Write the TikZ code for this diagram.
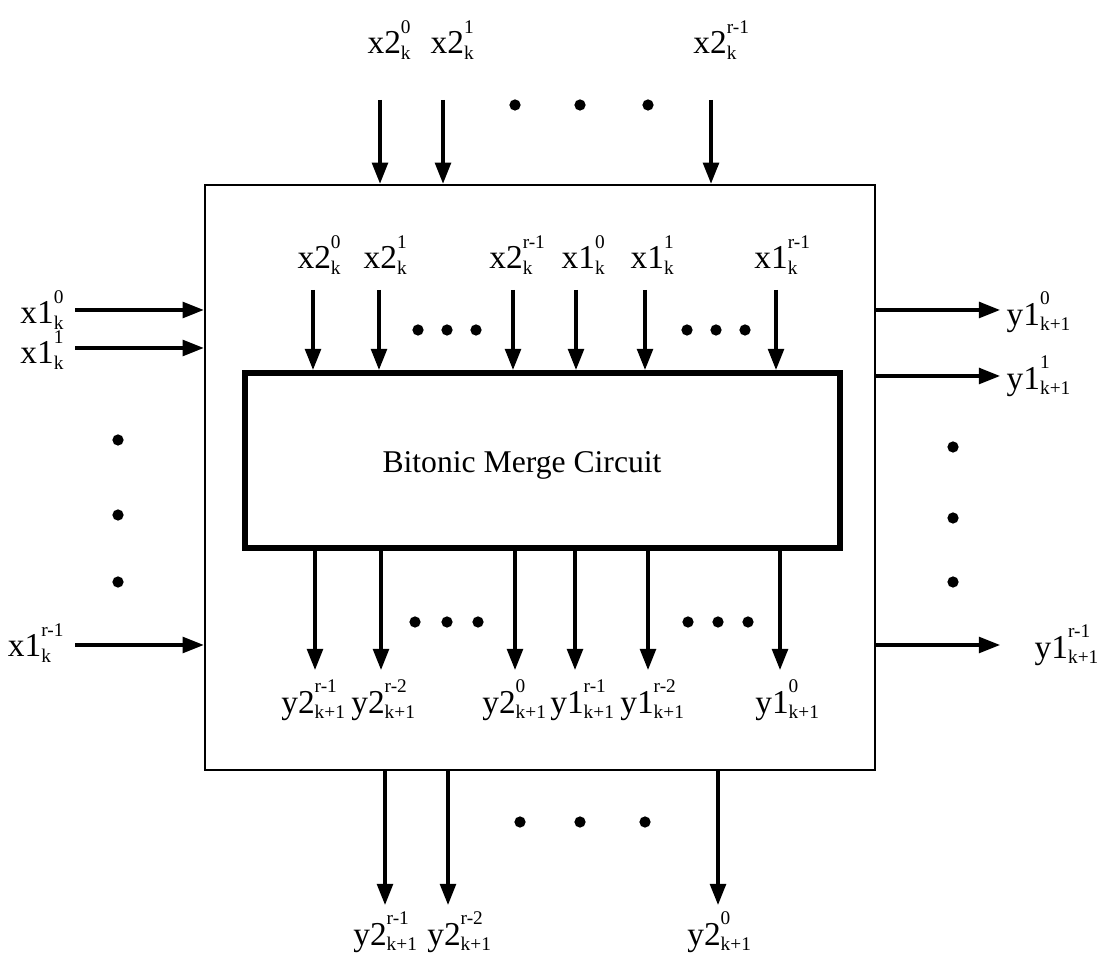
\documentclass[tikz,border=0pt]{standalone}
\usepackage{amsmath}
\usepackage{fontspec}
\setmainfont{Liberation Serif}
\usetikzlibrary{arrows.meta,positioning}
\newcommand{\port}[3]{#1$^{\raisebox{2pt}{\fontsize{5.5}{6}\selectfont #2}}_{\text{\fontsize{5.5}{6}\selectfont #3}}$}

\begin{document}
\begin{tikzpicture}[x=0.01cm,y=-0.01cm,
lbl/.style={font=\fontsize{9.5}{11}\selectfont,inner sep=0pt},
arr/.style={line width=0.9pt,-{Triangle[length=6pt,width=4.5pt]}},
dot/.style={circle,fill,inner sep=0pt,minimum size=3.2pt}]
\useasboundingbox (0,0) rectangle (1104,965);
\node[draw,line width=0.6pt,minimum width=6.7cm,minimum height=5.85cm,inner sep=0pt] (outer) at (540,477.5) {};
\node[draw,line width=1.7pt,minimum width=5.95cm,minimum height=1.75cm,inner sep=0pt] (merge) at (542.5,460.5) {};
\node[font=\fontsize{9}{11}\selectfont] (title) at (522,465) {Bitonic Merge Circuit};
% inputs from above
\coordinate (ta) at (380,100);
\coordinate (tb) at (443,100);
\coordinate (tc) at (711,100);
\node[lbl] (lta) at (390,40) {\port{x2}{0}{k}};
\node[lbl] (ltb) at (453,40) {\port{x2}{1}{k}};
\node[lbl] (ltc) at (722,40) {\port{x2}{r-1}{k}};
\draw[arr] (ta)--(ta |- outer.north);
\draw[arr] (tb)--(tb |- outer.north);
\draw[arr] (tc)--(tc |- outer.north);
\node[dot] (dta) at (515,105) {};
\node[dot] (dtb) at (580,105) {};
\node[dot] (dtc) at (648,105) {};
% inputs of the merge circuit
\coordinate (ia) at (313,290);
\coordinate (ib) at (379,290);
\coordinate (ic) at (513,290);
\coordinate (id) at (576,290);
\coordinate (ie) at (645,290);
\coordinate (if) at (776,290);
\node[lbl] (lia) at (320,255) {\port{x2}{0}{k}};
\node[lbl] (lib) at (386,255) {\port{x2}{1}{k}};
\node[lbl] (lic) at (518,255) {\port{x2}{r-1}{k}};
\node[lbl] (lid) at (584,255) {\port{x1}{0}{k}};
\node[lbl] (lie) at (653,255) {\port{x1}{1}{k}};
\node[lbl] (lif) at (783,255) {\port{x1}{r-1}{k}};
\draw[arr] (ia)--(ia |- merge.north);
\draw[arr] (ib)--(ib |- merge.north);
\draw[arr] (ic)--(ic |- merge.north);
\draw[arr] (id)--(id |- merge.north);
\draw[arr] (ie)--(ie |- merge.north);
\draw[arr] (if)--(if |- merge.north);
\node[dot] (dia) at (418,330) {};
\node[dot] (dib) at (447,330) {};
\node[dot] (dic) at (476,330) {};
\node[dot] (did) at (687,330) {};
\node[dot] (die) at (716,330) {};
\node[dot] (dif) at (745,330) {};
% outputs of the merge circuit
\coordinate (oa) at (315,670);
\coordinate (ob) at (381,670);
\coordinate (oc) at (515,670);
\coordinate (od) at (575,670);
\coordinate (oe) at (648,670);
\coordinate (of) at (780,670);
\node[lbl] (loa) at (314,700) {\port{y2}{r-1}{k+1}};
\node[lbl] (lob) at (384,700) {\port{y2}{r-2}{k+1}};
\node[lbl] (loc) at (515,700) {\port{y2}{0}{k+1}};
\node[lbl] (lod) at (583,700) {\port{y1}{r-1}{k+1}};
\node[lbl] (loe) at (653,700) {\port{y1}{r-2}{k+1}};
\node[lbl] (lof) at (788,700) {\port{y1}{0}{k+1}};
\draw[arr] (oa |- merge.south)--(oa);
\draw[arr] (ob |- merge.south)--(ob);
\draw[arr] (oc |- merge.south)--(oc);
\draw[arr] (od |- merge.south)--(od);
\draw[arr] (oe |- merge.south)--(oe);
\draw[arr] (of |- merge.south)--(of);
\node[dot] (doa) at (415,622) {};
\node[dot] (dob) at (447,622) {};
\node[dot] (doc) at (478,622) {};
\node[dot] (dod) at (688,622) {};
\node[dot] (doe) at (718,622) {};
\node[dot] (dof) at (748,622) {};
% outputs below
\coordinate (ba) at (385,905);
\coordinate (bb) at (448,905);
\coordinate (bc) at (718,905);
\node[lbl] (lba) at (386,932) {\port{y2}{r-1}{k+1}};
\node[lbl] (lbb) at (460,932) {\port{y2}{r-2}{k+1}};
\node[lbl] (lbc) at (720,932) {\port{y2}{0}{k+1}};
\draw[arr] (ba |- outer.south)--(ba);
\draw[arr] (bb |- outer.south)--(bb);
\draw[arr] (bc |- outer.south)--(bc);
\node[dot] (dba) at (520,822) {};
\node[dot] (dbb) at (580,822) {};
\node[dot] (dbc) at (645,822) {};
% inputs from the left
\coordinate (la) at (75,310);
\coordinate (lb) at (75,348);
\coordinate (lc) at (75,645);
\node[lbl,anchor=east] (lla) at (66,310) {\port{x1}{0}{k}};
\node[lbl,anchor=east] (llb) at (66,350) {\port{x1}{1}{k}};
\node[lbl,anchor=east] (llc) at (66,643) {\port{x1}{r-1}{k}};
\draw[arr] (la)--(la -| outer.west);
\draw[arr] (lb)--(lb -| outer.west);
\draw[arr] (lc)--(lc -| outer.west);
\node[dot] (dla) at (118,440) {};
\node[dot] (dlb) at (118,515) {};
\node[dot] (dlc) at (118,582) {};
% outputs to the right
\coordinate (ra) at (1000,310);
\coordinate (rb) at (1000,376);
\coordinate (rc) at (1000,645);
\node[lbl,anchor=west] (lra) at (1006,312) {\port{y1}{0}{k+1}};
\node[lbl,anchor=west] (lrb) at (1006,376) {\port{y1}{1}{k+1}};
\node[lbl,anchor=west] (lrc) at (1034,645) {\port{y1}{r-1}{k+1}};
\draw[arr] (ra -| outer.east)--(ra);
\draw[arr] (rb -| outer.east)--(rb);
\draw[arr] (rc -| outer.east)--(rc);
\node[dot] (dra) at (953,447) {};
\node[dot] (drb) at (953,518) {};
\node[dot] (drc) at (953,582) {};
\end{tikzpicture}
\end{document}
